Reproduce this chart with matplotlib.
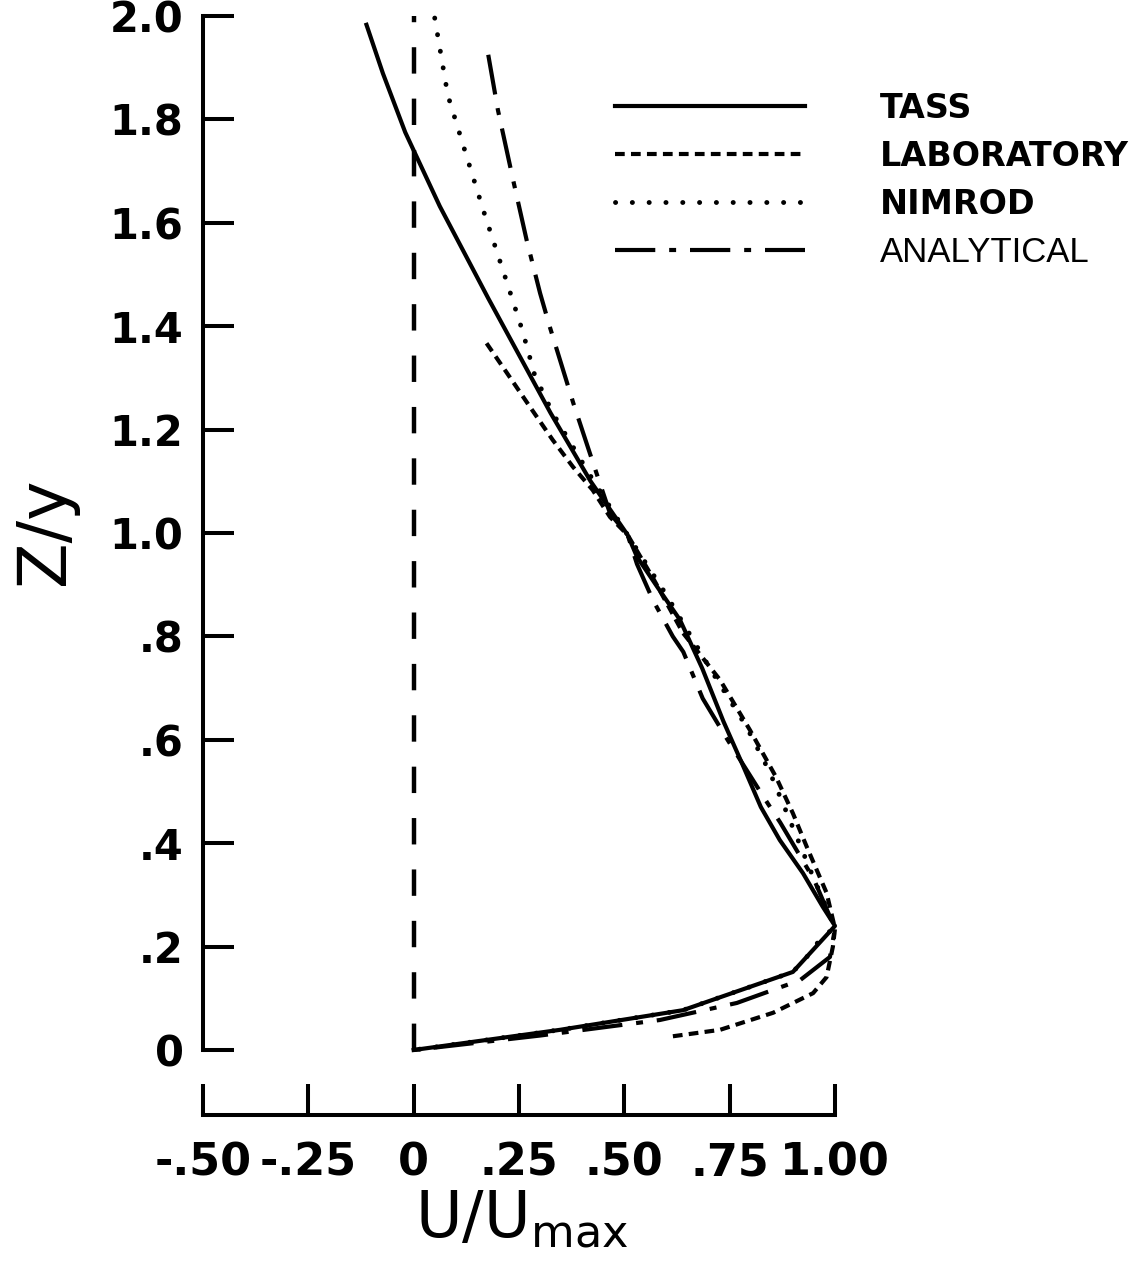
import matplotlib
matplotlib.use('Agg')
import matplotlib.pyplot as plt

plt.rcParams['font.family'] = 'DejaVu Sans'
plt.rcParams['lines.scale_dashes'] = False
plt.rcParams['mathtext.default'] = 'regular'

# values: U/Umax (x) against Z/y (y), top to bottom
tass_u = [-0.112, -0.073, -0.02, 0.062, 0.177, 0.325, 0.42, 0.508, 0.53, 0.578, 0.632,
          0.685, 0.735, 0.779, 0.824, 0.869, 0.924, 0.971, 1.0, 0.90, 0.639, 0.347, 0.0]
tass_z = [1.983, 1.889, 1.775, 1.632, 1.454, 1.232, 1.10, 0.996, 0.954, 0.896, 0.832,
          0.738, 0.636, 0.555, 0.47, 0.406, 0.342, 0.277, 0.24, 0.151, 0.077, 0.039, 0.0]

lab_u = [0.173, 0.221, 0.276, 0.33, 0.378, 0.425, 0.466, 0.508, 0.57, 0.639, 0.727,
         0.798, 0.86, 0.90, 0.933, 0.98, 1.0, 0.995, 0.98, 0.948, 0.853, 0.727, 0.601]
lab_z = [1.367, 1.31, 1.244, 1.18, 1.128, 1.083, 1.031, 0.996, 0.91, 0.807, 0.716,
         0.619, 0.528, 0.458, 0.393, 0.304, 0.235, 0.2, 0.141, 0.11, 0.072, 0.039, 0.025]

nim_u = [0.050, 0.081, 0.124, 0.167, 0.224, 0.259, 0.287, 0.33, 0.42, 0.508, 0.60,
         0.71, 0.79, 0.846, 0.886, 0.948, 1.0, 0.964, 0.933, 0.90, 0.639, 0.347, 0.0]
nim_z = [1.996, 1.847, 1.733, 1.620, 1.478, 1.389, 1.306, 1.232, 1.11, 0.996, 0.88,
         0.729, 0.625, 0.536, 0.458, 0.335, 0.238, 0.213, 0.18, 0.151, 0.077, 0.039, 0.0]

ana_u = [0.177, 0.2, 0.236, 0.268, 0.3, 0.323, 0.379, 0.426, 0.466, 0.508, 0.53, 0.568,
         0.615, 0.64, 0.686, 0.745, 0.83, 0.87, 0.95, 1.0, 0.988, 0.917, 0.767, 0.584, 0.30, 0.0]
ana_z = [1.925, 1.818, 1.683, 1.567, 1.464, 1.399, 1.251, 1.135, 1.038, 0.996, 0.94, 0.87,
         0.80, 0.77, 0.68, 0.60, 0.49, 0.44, 0.33, 0.235, 0.18, 0.135, 0.091, 0.058, 0.028, 0.0]

xticks = [-0.5, -0.25, 0, 0.25, 0.5, 0.75, 1.0]
xticklabels = ['-.50', '-.25', '0', '.25', '.50', '.75', '1.00']
yticks = [0, 0.2, 0.4, 0.6, 0.8, 1.0, 1.2, 1.4, 1.6, 1.8, 2.0]
yticklabels = ['0', '.2', '.4', '.6', '.8', '1.0', '1.2', '1.4', '1.6', '1.8', '2.0']

fig = plt.figure(figsize=(11.36, 12.74), dpi=100)
ax = fig.add_axes([203/1136, 159/1274, 632/1136, (1115-16)/1274])
ax.set_xlim(-0.5, 1.0)
ax.set_ylim(-0.1257, 2.0)

lw = 3.0
ax.plot([0, 0], [0, 2.0], color='black', lw=3.2, dashes=(19, 18), clip_on=False)
ax.plot(tass_u, tass_z, color='black', lw=lw, label='TASS', clip_on=False)
ax.plot(lab_u, lab_z, color='black', lw=lw, dashes=(7, 4.5), label='LABORATORY', clip_on=False)
ax.plot(nim_u, nim_z, color='black', lw=3.5, dashes=(0.1, 12), dash_capstyle='round',
        label='NIMROD', clip_on=False)
ax.plot(ana_u, ana_z, color='black', lw=lw, dashes=(29, 10, 5, 10), label='ANALYTICAL',
        clip_on=False)

for s in ['top', 'right']:
    ax.spines[s].set_visible(False)
ax.spines['left'].set_bounds(0, 2.0)
ax.spines['bottom'].set_bounds(-0.5, 1.0)
ax.spines['left'].set_linewidth(2.9)
ax.spines['bottom'].set_linewidth(2.9)

ax.set_xticks(xticks)
ax.set_xticklabels(xticklabels, fontsize=32, fontweight='bold')
ax.set_yticks(yticks)
ax.set_yticklabels(yticklabels, fontsize=30, fontweight='bold')
ax.tick_params(axis='y', direction='in', length=22, width=2.9, pad=14)
ax.tick_params(axis='x', direction='in', length=22, width=2.9, pad=19)

ax.text(0.505, -0.111, 'U/U$_{max}$', transform=ax.transAxes, fontsize=46,
        ha='center', va='baseline')
ax.text(-0.25, 0.531, 'Z/y', transform=ax.transAxes, fontsize=48,
        ha='center', va='center', rotation=90)

leg = ax.legend(loc='upper left', bbox_to_anchor=(615/1136, 1-92/1274),
                bbox_transform=fig.transFigure, frameon=False,
                prop={'size': 24, 'weight': 'bold'}, handlelength=5.7,
                handletextpad=2.25, labelspacing=0.45, borderpad=0, borderaxespad=0)
t = leg.get_texts()[3]
t.set_fontfamily('Liberation Sans')
t.set_fontweight('normal')
t.set_fontsize(25)

fig.savefig('out.png', dpi=100)
